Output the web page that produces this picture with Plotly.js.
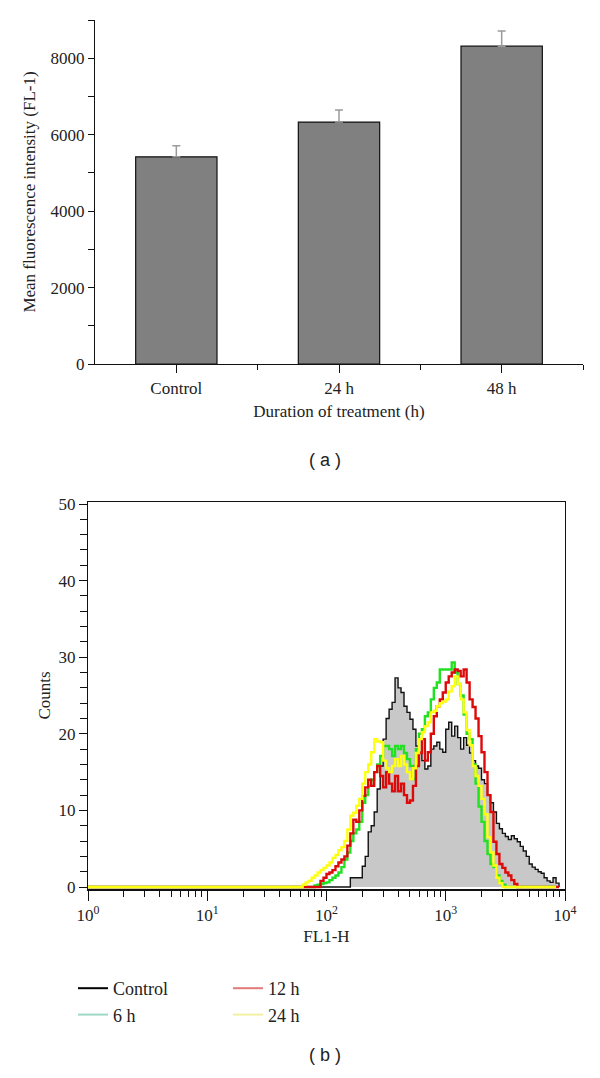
<!DOCTYPE html>
<html>
<head>
<meta charset="utf-8">
<script src="https://cdn.plot.ly/plotly-3.0.1.min.js"></script>
<style>
  body { margin: 0; background: #fff; }
  #plotDiv { width: 600px; height: 1078px; }
</style>
</head>
<body>
<div id="plotDiv"></div>
<script>
// panel (a): mean fluorescence intensity
let groups = ["Control", "24 h", "48 h"];
let mfi = [5420, 6330, 8315];
let mfiErr = [290, 315, 400];

// panel (b): FL1-H histograms (channel values, counts)
let fl1 = [1, 63.1, 66.8, 70.8, 75.0, 79.4, 84.1, 89.1, 94.4, 100, 105.9, 112.2, 118.9,
  125.9, 133.4, 141.3, 149.6, 158.5, 167.9, 177.8, 188.4, 199.5, 211.3, 223.9, 237.1,
  251.2, 266.1, 281.8, 298.5, 316.2, 335.0, 354.8, 375.8, 398.1, 421.7, 446.7, 473.2,
  501.2, 530.9, 562.3, 595.7, 631.0, 668.3, 707.9, 749.9, 794.3, 841.4, 891.3, 944.1,
  1000, 1059, 1122, 1189, 1259, 1334, 1413, 1496, 1585, 1679, 1778, 1884, 1995, 2113,
  2239, 2371, 2512, 2661, 2818, 2985, 3162, 3350, 3548, 3758, 3981, 4217, 4467, 4732,
  5012, 5309, 5623, 5957, 6310, 6683, 7079, 7499, 7943, 8414, 8913];

let control = [0, 0, 0, 0, 0, 0, 0, 0, 0, 0, 0, 0, 0, 0, 0, 0, 0,
  1.2, 1.2, 1.2, 1.2, 2.7, 4.0, 7.2, 8.0, 9.8, 12.8, 15.8, 19.3, 22.0, 23.2, 24.1, 27.3,
  26.0, 25.4, 23.6, 22.8, 21.9, 20.6, 18.4, 17.6, 16.5, 15.4, 15.8, 18.0, 18.4, 18.9,
  18.0, 17.6, 20.6, 21.5, 19.7, 21.0, 19.5, 18.0, 19.5, 18.5, 17.5, 16.5, 15.8, 15.5,
  14.0, 13.5, 12.0, 11.0, 9.8, 8.3, 7.6, 7.0, 6.6, 6.2, 6.7, 6.3, 5.9, 5.3, 4.7, 4.0,
  3.0, 2.6, 2.3, 2.0, 1.8, 1.2, 0.8, 0.6, 1.2, 0.5, 0];

let h6 = [0, 0, 0, 0, 0, 0.2, 0.3, 0.4, 0.5, 0.6, 0.9, 1.2, 1.5, 1.9, 2.6, 3.6, 4.5,
  6.0, 7.0, 7.5, 8.5, 11.0, 12.0, 13.2, 14.0, 15.0, 16.0, 17.1, 18.4, 18.4, 18.0, 17.1,
  18.4, 18.0, 18.4, 17.5, 16.7, 15.8, 14.1, 18.0, 20.0, 20.6, 22.3, 22.8, 24.5, 26.0,
  26.7, 28.4, 28.4, 28.4, 28.4, 29.3, 28.0, 26.5, 25.0, 22.5, 20.0, 19.3, 16.0, 13.5,
  10.5, 8.5, 6.0, 4.3, 3.0, 2.6, 1.5, 0.8, 0.3, 0, 0, 0, 0, 0, 0, 0, 0, 0, 0, 0, 0, 0,
  0, 0, 0, 0, 0];

let h12 = [0, 0, 0, 0, 0, 0, 0, 0.8, 1.2, 1.7, 1.9, 2.2, 2.7, 3.2, 3.6, 4.0, 5.4,
  7.0, 8.8, 8.5, 10.0, 11.9, 13.0, 14.0, 13.2, 15.0, 15.8, 14.5, 13.0, 15.0, 13.5, 12.5,
  14.5, 12.5, 13.5, 12.0, 11.0, 11.3, 13.2, 15.8, 17.5, 19.3, 16.5, 17.6, 20.0, 22.3,
  23.6, 24.5, 25.4, 26.7, 27.5, 28.0, 28.4, 28.2, 27.5, 28.4, 26.7, 24.5, 23.5, 22.0,
  19.7, 17.6, 15.0, 12.0, 9.8, 5.9, 4.3, 3.0, 2.5, 1.9, 1.5, 0.9, 0.4, 0, 0, 0, 0, 0,
  0, 0, 0, 0, 0, 0, 0, 0, 0, 0];

let h24 = [0, 0.3, 0.6, 0.8, 1.2, 1.5, 1.9, 2.2, 2.5, 2.8, 3.2, 3.8, 4.2, 4.8, 5.2, 6.0,
  7.5, 9.3, 9.7, 10.6, 11.5, 13.5, 15.0, 16.0, 17.6, 19.3, 19.0, 18.9, 16.5, 15.5, 15.0,
  15.8, 16.7, 15.8, 17.1, 16.0, 15.0, 14.1, 15.5, 17.5, 19.3, 20.2, 21.0, 21.5, 22.8,
  23.0, 23.6, 24.0, 24.2, 24.5, 25.5, 26.2, 27.5, 26.5, 24.5, 22.8, 20.5, 18.5, 15.8,
  14.5, 13.2, 11.5, 9.5, 6.5, 4.5, 2.8, 1.2, 0.5, 0, 0, 0, 0, 0, 0, 0, 0, 0, 0, 0, 0,
  0, 0, 0, 0, 0, 0, 0];

let legendNames = ["Control", "6 h", "12 h", "24 h"];
let legendColors = ["#000000", "#9ed8c6", "#e27a7a", "#f3f0a2"];

let decadeTicks = [1, 10, 100, 1000, 10000];
let decadeText = ["10<sup>0</sup>", "10<sup>1</sup>", "10<sup>2</sup>", "10<sup>3</sup>", "10<sup>4</sup>"];
let minorLogTicks = [2, 3, 4, 5, 6, 7, 8, 9, 20, 30, 40, 50, 60, 70, 80, 90,
  200, 300, 400, 500, 600, 700, 800, 900, 2000, 3000, 4000, 5000, 6000, 7000, 8000, 9000];

let serif = "Liberation Serif, Times New Roman, serif";
let ink = "#222222";

let data = [
  {
    type: "bar",
    x: groups.map((g, i) => i),
    y: mfi,
    width: 0.5,
    marker: { color: "#808080", line: { color: "#111111", width: 1.2 } },
    error_y: {
      type: "data", symmetric: false, array: mfiErr, arrayminus: [0, 0, 0],
      color: "#9a9a9a", thickness: 1.5, width: 4
    },
    xaxis: "x", yaxis: "y", showlegend: false
  },
  {
    x: fl1, y: control, type: "scatter", mode: "lines",
    line: { color: "#111111", width: 1.4, shape: "hv" },
    fill: "tozeroy", fillcolor: "#c8c8c8",
    xaxis: "x2", yaxis: "y2", showlegend: false
  },
  {
    x: fl1, y: h6, type: "scatter", mode: "lines",
    line: { color: "#22e022", width: 2.4, shape: "hv" },
    xaxis: "x2", yaxis: "y2", showlegend: false
  },
  {
    x: fl1, y: h12, type: "scatter", mode: "lines",
    line: { color: "#dd0a0a", width: 2.4, shape: "hv" },
    xaxis: "x2", yaxis: "y2", showlegend: false
  },
  {
    x: fl1, y: h24, type: "scatter", mode: "lines",
    line: { color: "#ffff10", width: 2.4, shape: "hv" },
    xaxis: "x2", yaxis: "y2", showlegend: false
  }
];

// legend entries (faded colours, as in the figure)
for (let i = 0; i < legendNames.length; i++) {
  data.push({
    x: [null], y: [null], type: "scatter", mode: "lines",
    name: legendNames[i],
    line: { color: legendColors[i], width: 2 },
    xaxis: "x2", yaxis: "y2",
    legend: i < 2 ? "legend" : "legend2"
  });
}

let layout = {
  width: 600,
  height: 1078,
  margin: { l: 0, r: 0, t: 0, b: 0 },
  paper_bgcolor: "#ffffff",
  plot_bgcolor: "#ffffff",
  font: { family: serif, size: 16, color: ink },
  showlegend: true,
  xaxis: {
    domain: [95 / 600, 583 / 600],
    anchor: "y",
    range: [-0.5, 2.5],
    tickmode: "array",
    tickvals: [0, 1, 2],
    ticktext: groups,
    ticks: "outside", ticklen: 8, tickcolor: "#111",
    minor: { tickmode: "array", tickvals: [0.5, 1.5, 2.5], ticks: "outside", ticklen: 5, tickcolor: "#111" },
    showline: true, linecolor: "#111", linewidth: 1.2,
    showgrid: false, zeroline: false,
    tickfont: { family: serif, size: 17, color: ink },
    title: { text: "Duration of treatment (h)", font: { family: serif, size: 17, color: ink }, standoff: 8 }
  },
  yaxis: {
    domain: [1 - 364 / 1078, 1 - 20 / 1078],
    anchor: "x",
    range: [0, 9000],
    tickmode: "array",
    tickvals: [0, 2000, 4000, 6000, 8000],
    ticks: "outside", ticklen: 6, tickcolor: "#111",
    minor: { tickmode: "array", tickvals: [1000, 3000, 5000, 7000, 9000], ticks: "outside", ticklen: 6, tickcolor: "#111" },
    showline: true, linecolor: "#111", linewidth: 1.2,
    showgrid: false, zeroline: false,
    tickfont: { family: serif, size: 17, color: ink },
    title: { text: "Mean fluorescence intensity (FL-1)", font: { family: serif, size: 17, color: ink }, standoff: 10 }
  },
  xaxis2: {
    domain: [88 / 600, 565 / 600],
    anchor: "y2",
    type: "log",
    range: [0, 4],
    tickmode: "array",
    tickvals: decadeTicks,
    ticktext: decadeText,
    ticks: "outside", ticklen: 10, tickcolor: "#111",
    minor: { tickmode: "array", tickvals: minorLogTicks, ticks: "outside", ticklen: 6, tickcolor: "#111" },
    showline: true, mirror: true, linecolor: "#111", linewidth: 1.2,
    showgrid: false, zeroline: false,
    tickfont: { family: serif, size: 17, color: ink },
    title: { text: "FL1-H", font: { family: serif, size: 17, color: ink }, standoff: 6 }
  },
  yaxis2: {
    domain: [1 - 889.3 / 1078, 1 - 501.7 / 1078],
    anchor: "x2",
    range: [-0.3, 50.3],
    tickmode: "array",
    tickvals: [0, 10, 20, 30, 40, 50],
    ticks: "outside", ticklen: 8, tickcolor: "#111",
    minor: { tickmode: "array", tickvals: [2, 4, 6, 8, 12, 14, 16, 18, 22, 24, 26, 28, 32, 34, 36, 38, 42, 44, 46, 48],
      ticks: "outside", ticklen: 7, tickcolor: "#111" },
    showline: true, mirror: true, linecolor: "#111", linewidth: 1.2,
    showgrid: false, zeroline: false,
    tickfont: { family: serif, size: 17, color: ink },
    title: { text: "Counts", font: { family: serif, size: 17, color: ink }, standoff: 3 }
  },
  legend: {
    x: 73 / 600, xanchor: "left",
    y: 1 - 970 / 1078, yanchor: "top",
    bgcolor: "rgba(0,0,0,0)",
    font: { family: serif, size: 18, color: ink },
    tracegroupgap: 0
  },
  legend2: {
    x: 228 / 600, xanchor: "left",
    y: 1 - 970 / 1078, yanchor: "top",
    bgcolor: "rgba(0,0,0,0)",
    font: { family: serif, size: 18, color: ink },
    tracegroupgap: 0
  },
  annotations: [
    {
      text: "( a )", xref: "paper", yref: "paper",
      x: 325 / 600, y: 1 - 460 / 1078, xanchor: "center", yanchor: "middle",
      showarrow: false, font: { family: "Liberation Sans, Arial, sans-serif", size: 18, color: ink }
    },
    {
      text: "( b )", xref: "paper", yref: "paper",
      x: 325 / 600, y: 1 - 1055 / 1078, xanchor: "center", yanchor: "middle",
      showarrow: false, font: { family: "Liberation Sans, Arial, sans-serif", size: 18, color: ink }
    }
  ]
};

Plotly.newPlot("plotDiv", data, layout, { staticPlot: true });
</script>
</body>
</html>
